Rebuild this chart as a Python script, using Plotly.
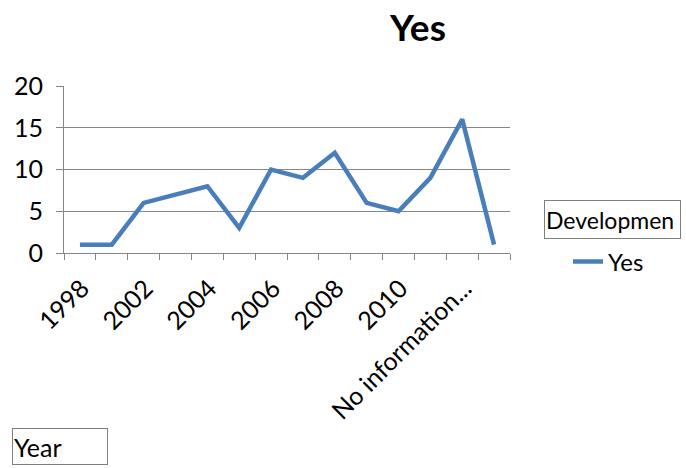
import plotly.graph_objects as go

categories = ["1998", "2000", "2002", "2003", "2004", "2005", "2006", "2007",
              "2008", "2009", "2010", "2011", "No information...", "Other"]
values = [1, 1, 6, 7, 8, 3, 10, 9, 12, 6, 5, 9, 16, 1]
shown_labels = ["1998", "2002", "2004", "2006", "2008", "2010", "No information..."]
y_ticks = [0, 5, 10, 15, 20]

FONT = "Lato"
W, H = 686, 468
# plot area in reference pixel coords
PX0, PX1, PY0, PY1 = 64, 510, 86, 253
L, R, T, B = PX0, W - PX1, PY0, H - PY1
PW, PH = PX1 - PX0, PY1 - PY0


def px(x):
    return (x - PX0) / PW


def py(y):
    return 1 - (y - PY0) / PH


fig = go.Figure()
fig.add_trace(go.Scatter(
    x=categories, y=values, mode="lines", name="Yes",
    line=dict(color="#4A7EBB", width=4.5),
))

ticktext = [c if c in shown_labels else "" for c in categories]

fig.update_layout(
    width=W, height=H,
    margin=dict(l=L, r=R, t=T, b=B, pad=0),
    paper_bgcolor="white", plot_bgcolor="white",
    font=dict(family=FONT, color="black", size=20),
    title=dict(text="<b>Yes</b>", x=418 / W, xanchor="center",
               y=1 - 28 / H, yanchor="middle",
               font=dict(family=FONT, size=37, color="black")),
    showlegend=True,
    legend=dict(x=px(568), xanchor="left",
                y=py(262), yanchor="middle",
                font=dict(family=FONT, size=24), bgcolor="rgba(0,0,0,0)",
                itemwidth=30),
    xaxis=dict(type="category", categoryorder="array", categoryarray=categories,
               tickvals=categories, ticktext=ticktext, tickangle=-45,
               tickson="boundaries", ticks="outside", ticklen=6,
               tickcolor="#868686", showline=True, linecolor="#868686",
               linewidth=1, showgrid=False, range=[-0.5, len(categories) - 0.5],
               ticklabelstandoff=10, ticklabelshift=2, automargin=False,
               tickfont=dict(family=FONT, size=25)),
    yaxis=dict(range=[0, 20], tickvals=y_ticks, showgrid=True,
               gridcolor="#868686", gridwidth=1, showline=True,
               linecolor="#868686", ticks="outside", ticklen=7,
               tickcolor="#868686", zeroline=False, ticklabelstandoff=8,
               automargin=False,
               tickfont=dict(family=FONT, size=25)),
)

fig.add_annotation(text="Developmen", xref="paper", yref="paper",
                   x=px(544), xanchor="left",
                   y=py(219), yanchor="middle",
                   showarrow=False, align="left", width=133, height=35,
                   bordercolor="#7f7f7f", borderwidth=1, borderpad=1,
                   font=dict(family=FONT, size=23))
fig.add_annotation(text="Year", xref="paper", yref="paper",
                   x=px(12), xanchor="left",
                   y=py(446), yanchor="middle",
                   showarrow=False, align="left", width=92, height=33,
                   bordercolor="#7f7f7f", borderwidth=1, borderpad=1,
                   font=dict(family=FONT, size=25))

fig.write_html("out.html",
               config={"displayModeBar": False},
               post_script="document.body.style.margin='0';")
